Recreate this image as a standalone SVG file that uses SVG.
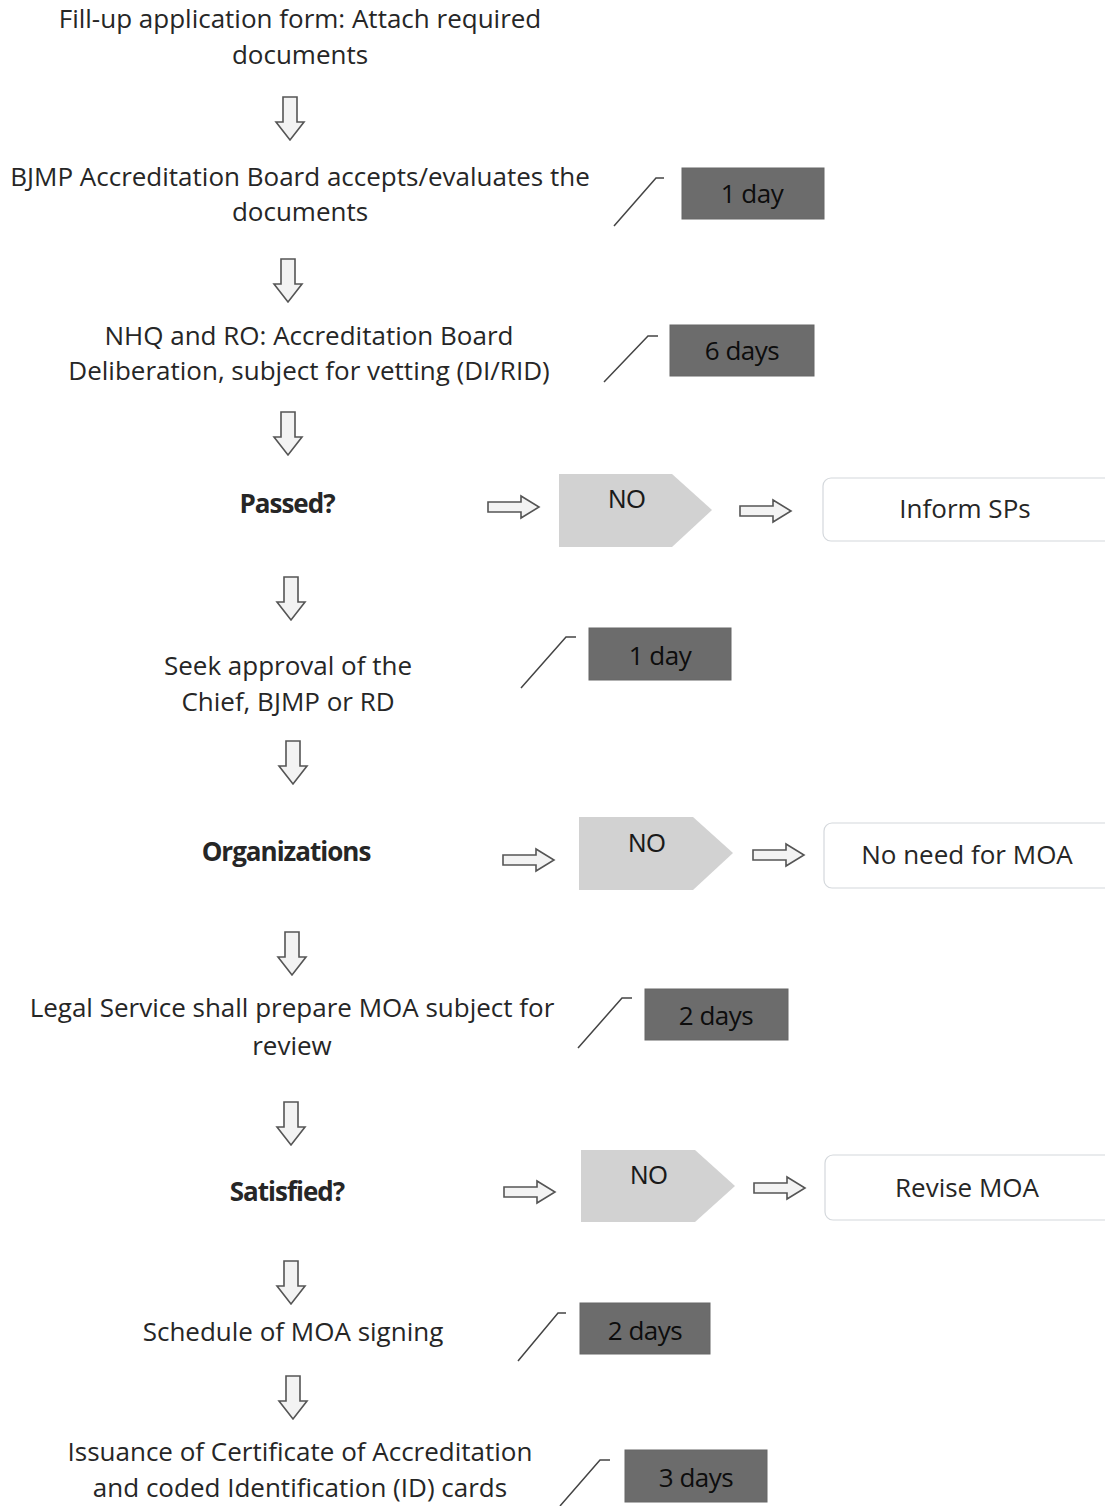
<svg xmlns="http://www.w3.org/2000/svg" width="1105" height="1506" viewBox="0 0 1105 1506">
<style>
.t{font-family:"Open Sans","Liberation Sans",sans-serif;font-size:26px;fill:#262626;text-anchor:middle}
.b{font-weight:bold;letter-spacing:-1px}
.d{font-family:"Open Sans","Liberation Sans",sans-serif;font-size:26px;fill:#0d0d0d;text-anchor:middle;letter-spacing:-0.5px}
.no{font-family:"Liberation Sans",Arial,sans-serif;font-size:25px;fill:#1a1a1a;text-anchor:middle}
.dbox{fill:#6c6c6c;stroke:#666;stroke-width:1}
.sl{fill:none;stroke:#444;stroke-width:1.5}
.arr{fill:#f3f3f3;stroke:#555;stroke-width:1.6;stroke-linejoin:miter}
.pent{fill:#d2d2d2}
.res{fill:#fff;stroke:#d4d8dc;stroke-width:1.2}
</style>
<defs>
<path id="da" class="arr" d="M-7,0 H7 V25 H14 L0,43 L-14,25 H-7 Z"/>
<path id="ra" class="arr" d="M0,-5 H33 V-11 L51,0 L33,11 V5 H0 Z"/>
</defs>
<rect width="1105" height="1506" fill="#ffffff"/>

<g id="n1">
<text class="t" x="300" y="28">Fill-up application form: Attach required</text>
<text class="t" x="300" y="64">documents</text>
</g>
<g id="n2">
<text class="t" x="300" y="186">BJMP Accreditation Board accepts/evaluates the</text>
<text class="t" x="300" y="221">documents</text>
</g>
<g id="t2">
<path class="sl" d="M614,226 L656,178 H664"/>
<rect class="dbox" x="682" y="168" width="142" height="51"/>
<text class="d" x="752" y="203">1 day</text>
</g>
<g id="n3">
<text class="t" x="309" y="345">NHQ and RO: Accreditation Board</text>
<text class="t" x="309" y="380">Deliberation, subject for vetting (DI/RID)</text>
</g>
<g id="t3">
<path class="sl" d="M604,382 L648,336 H658"/>
<rect class="dbox" x="670" y="325" width="144" height="51"/>
<text class="d" x="742" y="360">6 days</text>
</g>
<g id="n4">
<text class="t b" x="287" y="513">Passed?</text>
</g>
<g id="no1">
<path class="pent" d="M559,474 H672 L712,510 L672,547 H559 Z"/>
<text class="no" x="627" y="508">NO</text>
</g>
<g id="r1">
<rect class="res" x="823" y="478" width="290" height="63" rx="8"/>
<text class="t" x="965" y="518">Inform SPs</text>
</g>
<g id="n5">
<text class="t" x="288" y="675">Seek approval of the</text>
<text class="t" x="288" y="711">Chief, BJMP or RD</text>
</g>
<g id="t5">
<path class="sl" d="M521,688 L566,637 H576"/>
<rect class="dbox" x="589" y="628" width="142" height="52"/>
<text class="d" x="660" y="665">1 day</text>
</g>
<g id="n6">
<text class="t b" x="286" y="861">Organizations</text>
</g>
<g id="no2">
<path class="pent" d="M579,817 H693 L733,853 L693,890 H579 Z"/>
<text class="no" x="647" y="852">NO</text>
</g>
<g id="r2">
<rect class="res" x="824" y="823" width="290" height="65" rx="8"/>
<text class="t" x="967" y="864">No need for MOA</text>
</g>
<g id="n7">
<text class="t" x="292" y="1017">Legal Service shall prepare MOA subject for</text>
<text class="t" x="292" y="1055">review</text>
</g>
<g id="t7">
<path class="sl" d="M578,1048 L622,998 H632"/>
<rect class="dbox" x="645" y="989" width="143" height="51"/>
<text class="d" x="716" y="1025">2 days</text>
</g>
<g id="n8">
<text class="t b" x="287" y="1201">Satisfied?</text>
</g>
<g id="no3">
<path class="pent" d="M581,1150 H695 L735,1186 L695,1222 H581 Z"/>
<text class="no" x="649" y="1184">NO</text>
</g>
<g id="r3">
<rect class="res" x="825" y="1155" width="290" height="65" rx="8"/>
<text class="t" x="967" y="1197">Revise MOA</text>
</g>
<g id="n9">
<text class="t" x="293" y="1341">Schedule of MOA signing</text>
</g>
<g id="t9">
<path class="sl" d="M518,1361 L558,1313 H566"/>
<rect class="dbox" x="580" y="1303" width="130" height="51"/>
<text class="d" x="645" y="1340">2 days</text>
</g>
<g id="n10">
<text class="t" x="300" y="1461">Issuance of Certificate of Accreditation</text>
<text class="t" x="300" y="1497">and coded Identification (ID) cards</text>
</g>
<g id="t10">
<path class="sl" d="M560,1506 L600,1460 H610"/>
<rect class="dbox" x="625" y="1450" width="142" height="52"/>
<text class="d" x="696" y="1487">3 days</text>
</g>

<g id="connectors">
<use href="#da" x="290" y="97"/>
<use href="#da" x="288" y="259"/>
<use href="#da" x="288" y="412"/>
<use href="#da" x="291" y="577"/>
<use href="#da" x="293" y="741"/>
<use href="#da" x="292" y="932"/>
<use href="#da" x="291" y="1102"/>
<use href="#da" x="291" y="1261"/>
<use href="#da" x="293" y="1376"/>
<use href="#ra" x="488" y="507"/>
<use href="#ra" x="740" y="511"/>
<use href="#ra" x="503" y="860"/>
<use href="#ra" x="753" y="855"/>
<use href="#ra" x="504" y="1192"/>
<use href="#ra" x="754" y="1188"/>
</g>
</svg>
